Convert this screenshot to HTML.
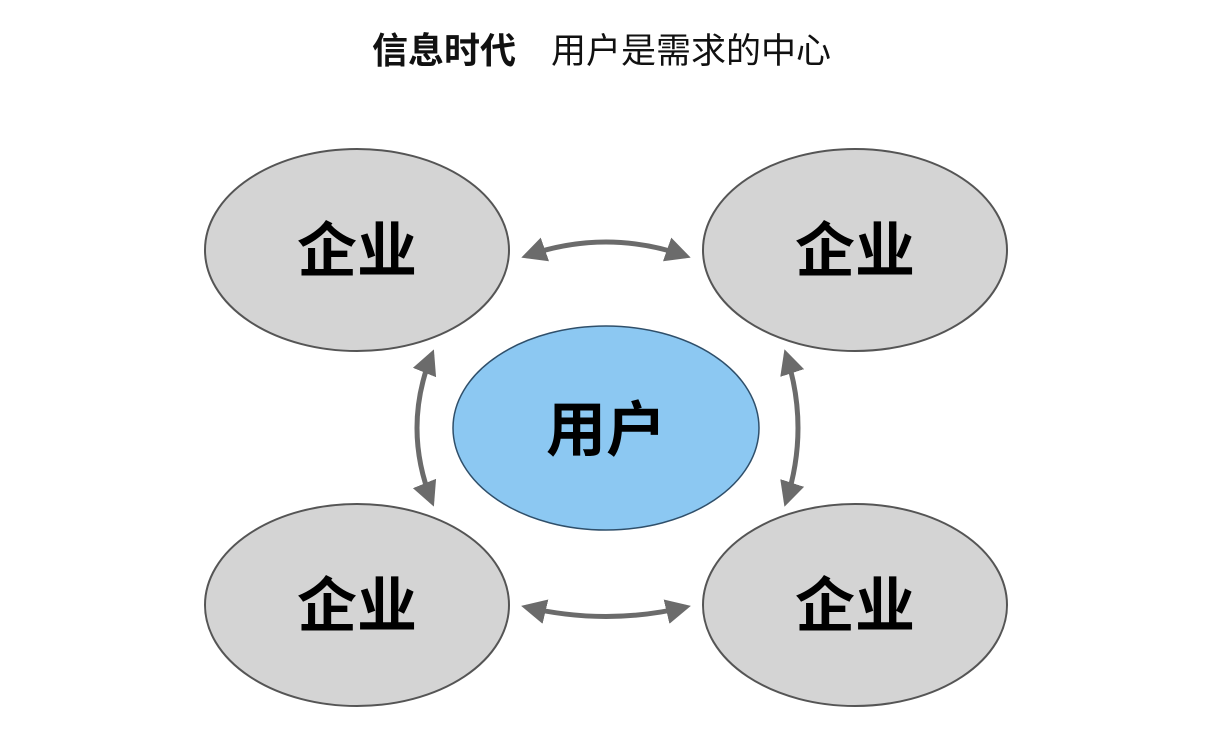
<!DOCTYPE html>
<html><head><meta charset="utf-8"><style>
body{margin:0;background:#fff;}
svg{display:block}
text{font-family:"Liberation Sans","Noto Sans CJK SC",sans-serif;}
</style></head><body>
<svg width="1221" height="736" viewBox="0 0 1221 736">
<defs>
<marker id="a" viewBox="0 0 10 10" refX="8" refY="5" markerWidth="5" markerHeight="5" orient="auto-start-reverse" markerUnits="strokeWidth">
<path d="M0,0 L10,5 L0,10 Z" fill="#6b6b6b"/></marker>
</defs>
<text x="372" y="63" font-size="36" font-weight="bold" fill="#111">信息时代</text>
<text x="551" y="63" font-size="35" fill="#111">用户是需求的中心</text>
<g fill="#d4d4d4" stroke="#555" stroke-width="2">
<ellipse cx="357" cy="250" rx="152" ry="101"/>
<ellipse cx="855" cy="250" rx="152" ry="101"/>
<ellipse cx="357" cy="605" rx="152" ry="101"/>
<ellipse cx="855" cy="605" rx="152" ry="101"/>
</g>
<ellipse cx="606" cy="428" rx="153" ry="102" fill="#8cc8f2" stroke="#2f4f6a" stroke-width="1.5"/>
<g fill="none" stroke="#6b6b6b" stroke-width="5" marker-start="url(#a)" marker-end="url(#a)">
<path d="M526,256 Q606,228 686,256"/>
<path d="M526,607 Q606,626 686,607"/>
<path d="M432,354 Q402,428 432,502"/>
<path d="M786,354 Q810,428 786,502"/>
</g>
<g font-size="60" font-weight="bold" fill="#000" text-anchor="middle">
<text x="357" y="272">企业</text>
<text x="855" y="272">企业</text>
<text x="357" y="627">企业</text>
<text x="855" y="627">企业</text>
<text x="606" y="451">用户</text>
</g>
</svg>
</body></html>
